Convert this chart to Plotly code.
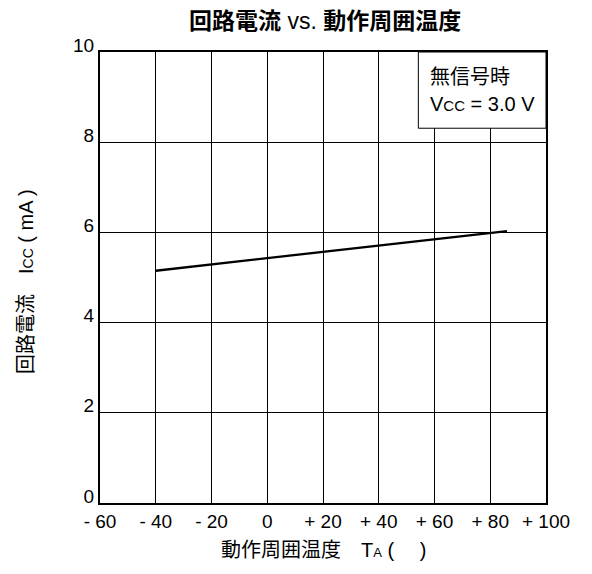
import plotly.graph_objects as go

temp = [-40, 86]
icc = [5.15, 6.03]
x_ticks = [-60, -40, -20, 0, 20, 40, 60, 80, 100]
x_labels = ["- 60", "- 40", "- 20", "0", "+ 20", "+ 40", "+ 60", "+ 80", "+ 100"]
y_ticks = [0, 2, 4, 6, 8, 10]
y_labels = ["0", "2", "4", "6", "8", "10"]

FONT = "Liberation Sans, Arial, Noto Sans CJK JP"

fig = go.Figure()
fig.add_trace(go.Scatter(x=temp, y=icc, mode="lines",
                         line=dict(color="black", width=2.3), showlegend=False,
                         hoverinfo="skip"))

fig.update_layout(
    width=592, height=574,
    margin=dict(l=92, r=54, t=44, b=79),
    paper_bgcolor="white", plot_bgcolor="white",
    font=dict(family=FONT, color="black", size=19),
    xaxis=dict(range=[-60, 100], tickvals=x_ticks, ticktext=x_labels,
               showgrid=True, gridcolor="black", gridwidth=1,
               zeroline=False, showline=True, linecolor="black", linewidth=2,
               mirror=True, ticks="", tickfont=dict(size=19)),
    yaxis=dict(range=[0, 10], tickvals=y_ticks, ticktext=y_labels,
               showgrid=True, gridcolor="black", gridwidth=1,
               zeroline=False, showline=True, linecolor="black", linewidth=2,
               mirror=True, ticks="", tickfont=dict(size=19), ticklabelshift=-7),
)

fig.add_annotation(xref="paper", yref="paper", x=0.505, y=1, yshift=31,
                   xanchor="center", yanchor="middle", showarrow=False,
                   text="<b>回路電流</b> vs. <b>動作周囲温度</b>", font=dict(size=23))
fig.add_annotation(xref="paper", yref="paper", x=0.5, y=0, yshift=-47,
                   xanchor="center", yanchor="middle", showarrow=False,
                   text="動作周囲温度　T<span style='font-size:13px'>A</span> (　 )",
                   font=dict(size=20))
fig.add_annotation(xref="paper", yref="paper", x=0, xshift=-74, y=0.49,
                   xanchor="center", yanchor="middle", showarrow=False, textangle=-90,
                   text="回路電流　I<span style='font-size:14px'>CC</span> ( mA )",
                   font=dict(size=20))

fig.add_shape(type="rect", xref="x", yref="y", x0=54.2, x1=100, y0=8.31, y1=10,
              line=dict(color="black", width=1), fillcolor="white", layer="above")
fig.add_annotation(xref="x", yref="y", x=57.8, y=9.45, xanchor="left", yanchor="middle",
                   text="無信号時", showarrow=False, font=dict(size=20))
fig.add_annotation(xref="x", yref="y", x=57.8, y=8.85, xanchor="left", yanchor="middle",
                   text="V<span style='font-size:15px'>CC</span> = 3.0 V", showarrow=False,
                   font=dict(size=20))

fig.write_html("out.html")
